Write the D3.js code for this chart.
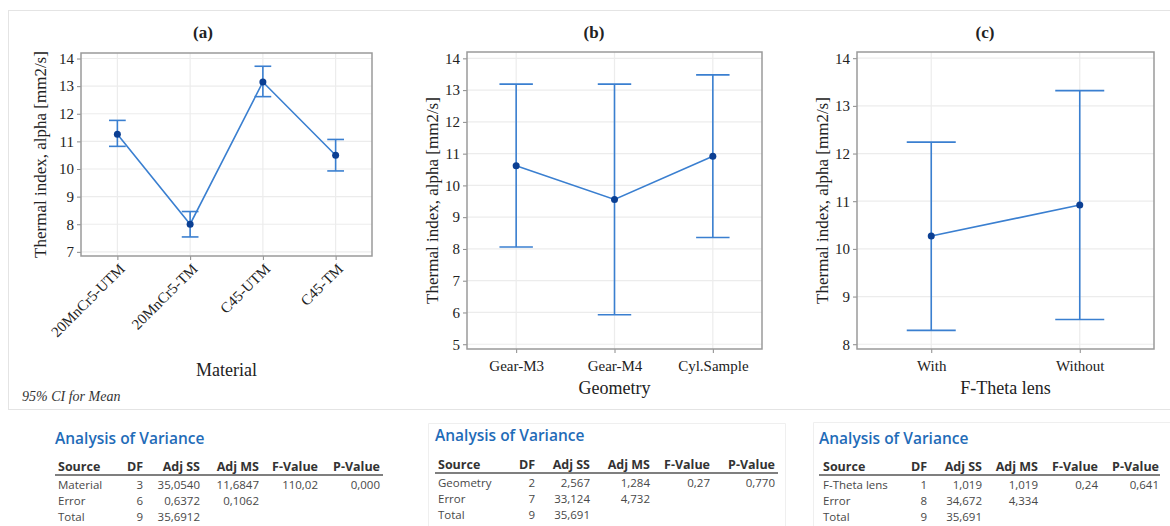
<!DOCTYPE html>
<html>
<head>
<meta charset="utf-8">
<script src="https://cdn.jsdelivr.net/npm/d3@7"></script>
<style>
  html, body { margin: 0; padding: 0; background: #fff; }
  svg { display: block; }
</style>
</head>
<body>
<svg id="chart" width="1170" height="526"></svg>
<script>
// ---- interval plot data (mean with 95% CI) ----
const materialCats  = ["20MnCr5-UTM", "20MnCr5-TM", "C45-UTM", "C45-TM"];
const materialMean  = [11.26, 8.00, 13.15, 10.50];
const materialLower = [10.82, 7.54, 12.62, 9.93];
const materialUpper = [11.76, 8.46, 13.72, 11.07];
const materialTicks = [7, 8, 9, 10, 11, 12, 13, 14];

const geometryCats  = ["Gear-M3", "Gear-M4", "Cyl.Sample"];
const geometryMean  = [10.62, 9.56, 10.92];
const geometryLower = [8.06, 5.93, 8.36];
const geometryUpper = [13.19, 13.19, 13.48];
const geometryTicks = [5, 6, 7, 8, 9, 10, 11, 12, 13, 14];

const lensCats  = ["With", "Without"];
const lensMean  = [10.27, 10.92];
const lensLower = [8.29, 8.52];
const lensUpper = [12.24, 13.32];
const lensTicks = [8, 9, 10, 11, 12, 13, 14];

// ---- ANOVA tables ----
const anovaHeader = ["Source", "DF", "Adj SS", "Adj MS", "F-Value", "P-Value"];
const anovaMaterial = [
  ["Material", "3", "35,0540", "11,6847", "110,02", "0,000"],
  ["Error", "6", "0,6372", "0,1062", "", ""],
  ["Total", "9", "35,6912", "", "", ""]
];
const anovaGeometry = [
  ["Geometry", "2", "2,567", "1,284", "0,27", "0,770"],
  ["Error", "7", "33,124", "4,732", "", ""],
  ["Total", "9", "35,691", "", "", ""]
];
const anovaLens = [
  ["F-Theta lens", "1", "1,019", "1,019", "0,24", "0,641"],
  ["Error", "8", "34,672", "4,334", "", ""],
  ["Total", "9", "35,691", "", "", ""]
];

const svg = d3.select("#chart");
const SERIF = "'Liberation Serif', 'Times New Roman', serif";
const SANS = "'Open Sans', 'Noto Sans', sans-serif";
const LINE = "#3a7fd0";
const DOT = "#0b3f93";

// light frame around the graph area
svg.append("rect")
  .attr("x", 8.5).attr("y", 10.5).attr("width", 1180).attr("height", 399)
  .attr("fill", "none").attr("stroke", "#e4e4e4").attr("stroke-width", 1);

const panels = [
  { title: "(a)", titleX: 203, cats: materialCats, mean: materialMean, lo: materialLower, hi: materialUpper,
    ticks: materialTicks, domain: [6.85, 14.2], x0: 81, x1: 372, y0: 53, y1: 256, cap: 0.23,
    yTitleX: 40, xTitle: "Material", xTitleY: 376, rotate: true },
  { title: "(b)", titleX: 594, cats: geometryCats, mean: geometryMean, lo: geometryLower, hi: geometryUpper,
    ticks: geometryTicks, domain: [4.85, 14.2], x0: 467, x1: 762, y0: 52, y1: 349, cap: 0.34,
    yTitleX: 432, xTitle: "Geometry", xTitleY: 394, rotate: false },
  { title: "(c)", titleX: 985, cats: lensCats, mean: lensMean, lo: lensLower, hi: lensUpper,
    ticks: lensTicks, domain: [7.9, 14.13], x0: 857, x1: 1154, y0: 52, y1: 349, cap: 0.33,
    yTitleX: 822, xTitle: "F-Theta lens", xTitleY: 394, rotate: false }
];

panels.forEach(p => {
  const g = svg.append("g");
  const x = d3.scalePoint().domain(p.cats).range([p.x0, p.x1]).padding(0.5);
  const y = d3.scaleLinear().domain(p.domain).range([p.y1, p.y0]);

  // grid
  g.append("g").selectAll("line.h").data(p.ticks).join("line")
    .attr("x1", p.x0).attr("x2", p.x1)
    .attr("y1", d => y(d)).attr("y2", d => y(d))
    .attr("stroke", "#ececec").attr("stroke-width", 1.2);
  g.append("g").selectAll("line.v").data(p.cats).join("line")
    .attr("x1", d => x(d)).attr("x2", d => x(d))
    .attr("y1", p.y0).attr("y2", p.y1)
    .attr("stroke", "#ececec").attr("stroke-width", 1.2);

  // y axis
  const ya = g.append("g").attr("transform", `translate(${p.x0},0)`)
    .call(d3.axisLeft(y).tickValues(p.ticks).tickFormat(d3.format("d")).tickSize(4).tickPadding(3));
  ya.select(".domain").remove();
  ya.selectAll("line").attr("stroke", "#8a8a8a");
  ya.selectAll("text").attr("font-family", SERIF).attr("font-size", 15).attr("fill", "#222");

  // x axis
  const xa = g.append("g").attr("transform", `translate(0,${p.y1})`)
    .call(d3.axisBottom(x).tickSize(4).tickPadding(5));
  xa.select(".domain").remove();
  xa.selectAll("line").attr("stroke", "#8a8a8a");
  xa.selectAll("text").attr("font-family", SERIF).attr("font-size", 15).attr("fill", "#222");
  if (p.rotate) {
    xa.selectAll("text")
      .attr("text-anchor", "end")
      .attr("dy", "0.35em")
      .attr("transform", "translate(4,10) rotate(-45)")
      .attr("y", 0).attr("x", 0);
  } else {
    xa.selectAll("text").attr("dy", "0.85em");
  }

  // frame
  g.append("rect")
    .attr("x", p.x0).attr("y", p.y0)
    .attr("width", p.x1 - p.x0).attr("height", p.y1 - p.y0)
    .attr("fill", "none").attr("stroke", "#9a9a9a").attr("stroke-width", 1.5);

  // interval bars
  const capW = x.step() * p.cap;
  const rows = p.cats.map((c, i) => ({ c, m: p.mean[i], lo: p.lo[i], hi: p.hi[i] }));
  const bars = g.append("g").attr("stroke", LINE).attr("stroke-width", 1.6).attr("fill", "none");
  bars.selectAll("line.stem").data(rows).join("line")
    .attr("x1", d => x(d.c)).attr("x2", d => x(d.c))
    .attr("y1", d => y(d.lo)).attr("y2", d => y(d.hi));
  bars.selectAll("line.top").data(rows).join("line")
    .attr("x1", d => x(d.c) - capW / 2).attr("x2", d => x(d.c) + capW / 2)
    .attr("y1", d => y(d.hi)).attr("y2", d => y(d.hi));
  bars.selectAll("line.bot").data(rows).join("line")
    .attr("x1", d => x(d.c) - capW / 2).attr("x2", d => x(d.c) + capW / 2)
    .attr("y1", d => y(d.lo)).attr("y2", d => y(d.lo));

  // mean connect line and dots
  g.append("path").datum(rows)
    .attr("d", d3.line().x(d => x(d.c)).y(d => y(d.m)))
    .attr("fill", "none").attr("stroke", LINE).attr("stroke-width", 1.6);
  g.append("g").selectAll("circle").data(rows).join("circle")
    .attr("cx", d => x(d.c)).attr("cy", d => y(d.m)).attr("r", 3.5)
    .attr("fill", DOT);

  // titles
  g.append("text").attr("x", p.titleX).attr("y", 38)
    .attr("text-anchor", "middle").attr("font-family", SERIF)
    .attr("font-weight", "bold").attr("font-size", 17).attr("fill", "#222")
    .text(p.title);
  g.append("text")
    .attr("transform", `translate(${p.yTitleX},${(p.y0 + p.y1) / 2}) rotate(-90)`)
    .attr("text-anchor", "middle").attr("dy", "0.35em")
    .attr("font-family", SERIF).attr("font-size", 17).attr("fill", "#222")
    .text("Thermal index, alpha [mm2/s]");
  g.append("text").attr("x", (p.x0 + p.x1) / 2).attr("y", p.xTitleY)
    .attr("text-anchor", "middle").attr("font-family", SERIF)
    .attr("font-size", 18).attr("fill", "#222")
    .text(p.xTitle);
});

svg.append("text").attr("x", 22).attr("y", 401)
  .attr("font-family", SERIF).attr("font-style", "italic")
  .attr("font-size", 14).attr("fill", "#333")
  .text("95% CI for Mean");

// ---- ANOVA tables ----
const tables = [
  { rows: anovaMaterial, left: 55, srcX: 58, titleY: 444, headY: 471, lineY: 475, rowY: [489, 505, 521],
    cols: [88, 145, 204, 263, 325], lineW: 328, box: null },
  { rows: anovaGeometry, left: 435, srcX: 438, titleY: 441, headY: 469, lineY: 473, rowY: [487, 503, 519],
    cols: [100, 155, 215, 275, 340], lineW: 343, box: [428, 423, 785] },
  { rows: anovaLens, left: 819, srcX: 823, titleY: 444, headY: 471, lineY: 475, rowY: [489, 505, 521],
    cols: [108, 163, 219, 279, 340], lineW: 341, box: [813, 422, 1175] }
];

tables.forEach(t => {
  const g = svg.append("g");
  if (t.box) {
    g.append("path")
      .attr("d", `M${t.box[0] + 0.5},530V${t.box[1] + 0.5}H${t.box[2] + 0.5}V530`)
      .attr("fill", "none").attr("stroke", "#efefef").attr("stroke-width", 1);
  }
  g.append("text").attr("x", t.left).attr("y", t.titleY)
    .attr("font-family", SANS).attr("font-weight", 600).attr("font-size", 15.5)
    .attr("fill", "#1f6cb8").text("Analysis of Variance");
  // header
  g.append("text").attr("x", t.srcX).attr("y", t.headY)
    .attr("font-family", SANS).attr("font-weight", 700).attr("font-size", 12.5)
    .attr("fill", "#333").text(anovaHeader[0]);
  g.selectAll("text.hd").data(anovaHeader.slice(1)).join("text")
    .attr("x", (d, i) => t.left + t.cols[i]).attr("y", t.headY)
    .attr("text-anchor", "end")
    .attr("font-family", SANS).attr("font-weight", 700).attr("font-size", 12.5)
    .attr("fill", "#333").text(d => d);
  g.append("line").attr("x1", t.left).attr("x2", t.left + t.lineW)
    .attr("y1", t.lineY).attr("y2", t.lineY)
    .attr("stroke", "#555").attr("stroke-width", 1.3);
  t.rows.forEach((r, ri) => {
    g.append("text").attr("x", t.srcX).attr("y", t.rowY[ri])
      .attr("font-family", SANS).attr("font-size", 11.5).attr("fill", "#484848").text(r[0]);
    g.selectAll(null).data(r.slice(1)).join("text")
      .attr("x", (d, i) => t.left + t.cols[i]).attr("y", t.rowY[ri])
      .attr("text-anchor", "end")
      .attr("font-family", SANS).attr("font-size", 11.5).attr("fill", "#484848").text(d => d);
  });
});
</script>
</body>
</html>
